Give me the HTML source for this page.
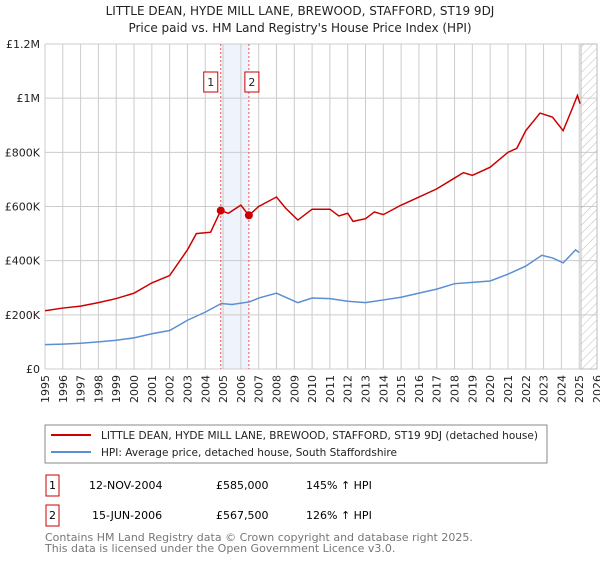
<!DOCTYPE html>
<html><head><meta charset="utf-8"><style>
body{margin:0;background:#fff;font-family:"Liberation Sans","DejaVu Sans",sans-serif;}
svg text{font-family:"DejaVu Sans","Liberation Sans",sans-serif;}
</style></head><body>
<svg width="600" height="560" xmlns="http://www.w3.org/2000/svg">
<defs><pattern id="hatch" width="6" height="6" patternUnits="userSpaceOnUse" patternTransform="rotate(45)"><line x1="0" y1="0" x2="0" y2="6" stroke="#bbb" stroke-width="1"/></pattern></defs>
<text x="300" y="15" text-anchor="middle" font-size="12" fill="#222">LITTLE DEAN, HYDE MILL LANE, BREWOOD, STAFFORD, ST19 9DJ</text>
<text x="300" y="32" text-anchor="middle" font-size="12" fill="#222">Price paid vs. HM Land Registry's House Price Index (HPI)</text>
<g id="plot"></g>
<rect x="45" y="425" width="502" height="38" fill="#fff" stroke="#888"/>
<line x1="51" y1="435" x2="91" y2="435" stroke="#cc0000" stroke-width="2"/>
<text x="101" y="439" font-size="11" fill="#222" textLength="437" lengthAdjust="spacingAndGlyphs">LITTLE DEAN, HYDE MILL LANE, BREWOOD, STAFFORD, ST19 9DJ (detached house)</text>
<line x1="51" y1="452" x2="91" y2="452" stroke="#5b8fd4" stroke-width="2"/>
<text x="101" y="456" font-size="11" fill="#222" textLength="296" lengthAdjust="spacingAndGlyphs">HPI: Average price, detached house, South Staffordshire</text>
<rect x="46" y="475" width="13" height="21" fill="#fff" stroke="#cc0000"/>
<text x="52.5" y="489" text-anchor="middle" font-size="11">1</text>
<text x="89" y="489" font-size="11">12-NOV-2004</text>
<text x="216" y="489" font-size="11">£585,000</text>
<text x="306" y="489" font-size="11">145% ↑ HPI</text>
<rect x="46" y="505" width="13" height="21" fill="#fff" stroke="#cc0000"/>
<text x="52.5" y="519" text-anchor="middle" font-size="11">2</text>
<text x="92" y="519" font-size="11">15-JUN-2006</text>
<text x="216" y="519" font-size="11">£567,500</text>
<text x="306" y="519" font-size="11">126% ↑ HPI</text>
<text x="45" y="541" font-size="11" fill="#777">Contains HM Land Registry data © Crown copyright and database right 2025.</text>
<text x="45" y="552" font-size="11" fill="#777">This data is licensed under the Open Government Licence v3.0.</text>
</svg>
<script>
const yTicks=[0,200,400,600,800,1000,1200];
const yTickLabels=["£0","£200K","£400K","£600K","£800K","£1M","£1.2M"];
const years=[1995,1996,1997,1998,1999,2000,2001,2002,2003,2004,2005,2006,2007,2008,2009,2010,2011,2012,2013,2014,2015,2016,2017,2018,2019,2020,2021,2022,2023,2024,2025,2026];
const hpiT=[1995,1996,1997,1998,1999,2000,2001,2002,2003,2004,2004.9,2005.5,2006.5,2007,2008,2008.5,2009.2,2010,2011,2012,2013,2014,2015,2016,2017,2018,2019,2020,2021,2022,2022.9,2023.5,2024.1,2024.8,2025];
const hpiV=[90,92,95,100,106,115,130,142,180,210,242,238,248,262,280,265,245,262,260,250,245,255,265,280,295,315,320,325,350,380,420,410,392,440,430];
const priceT=[1995,1996,1997,1998,1999,2000,2001,2002,2003,2003.5,2004.3,2004.87,2005.3,2006,2006.45,2007,2008,2008.5,2009.2,2010,2011,2011.5,2012,2012.3,2013,2013.5,2014,2015,2016,2017,2018,2018.5,2019,2019.5,2020,2021,2021.5,2022,2022.8,2023.5,2024.1,2024.6,2024.9,2025.05];
const priceV=[215,225,232,245,260,280,318,345,440,500,505,585,575,605,567,600,635,595,550,590,590,565,575,545,555,580,570,605,635,665,705,725,715,730,745,800,815,880,945,930,880,960,1010,980];
const saleT=[2004.87,2006.45];
const saleV=[585,567.5];
const saleLabels=["1","2"];
const X0=45,X1=597,Y0=369,Y1=44;
const xs=t=>X0+(t-1995)/(2026-1995)*(X1-X0);
const ys=v=>Y0-(v/1200)*(Y0-Y1);
const NS="http://www.w3.org/2000/svg";
const g=document.getElementById('plot');
function mk(tag,attrs){const e=document.createElementNS(NS,tag);for(const k in attrs)e.setAttribute(k,attrs[k]);g.appendChild(e);return e;}
let e=mk('rect',{x:xs(saleT[0]),y:Y1,width:xs(saleT[1])-xs(saleT[0]),height:Y0-Y1,fill:'#eef3fc'});


years.forEach(y=>{const l=mk('line',{x1:xs(y),x2:xs(y),y1:Y1,y2:Y0,stroke:'#ccc','stroke-width':1});


const t=mk('text',{x:0,y:0,'font-size':11,fill:'#222','text-anchor':'end',transform:`translate(${xs(y)+4},${Y0+6}) rotate(-90)`});t.textContent=y;

});
yTicks.forEach((v,i)=>{const l=mk('line',{x1:X0,x2:X1,y1:ys(v),y2:ys(v),stroke:'#ccc','stroke-width':1});


const t=mk('text',{x:X0-5,y:ys(v)+4,'font-size':11,fill:'#222','text-anchor':'end'});t.textContent=yTickLabels[i];

});
e=mk('rect',{x:xs(2025.1),y:Y1,width:X1-xs(2025.1),height:Y0-Y1,fill:'url(#hatch)',stroke:'#bbb'});


e=mk('polyline',{points:hpiT.map((t,i)=>xs(t)+','+ys(hpiV[i])).join(' '),fill:'none',stroke:'#5b8fd4','stroke-width':1.5});


e=mk('polyline',{points:priceT.map((t,i)=>xs(t)+','+ys(priceV[i])).join(' '),fill:'none',stroke:'#cc0000','stroke-width':1.5});


saleT.forEach((t,i)=>{const l=mk('line',{x1:xs(t),x2:xs(t),y1:Y1,y2:Y0,stroke:'#e55','stroke-width':1,'stroke-dasharray':'2,2'});


const c=mk('circle',{cx:xs(t),cy:ys(saleV[i]),r:4,fill:'#cc0000'});


const bx=xs(t)-(i==0?10:-3);
const r=mk('rect',{x:bx-7,y:72,width:14,height:20,fill:'#fff',stroke:'#cc0000'});


const tx=mk('text',{x:bx,y:86,'font-size':11,'text-anchor':'middle',fill:'#222'});tx.textContent=saleLabels[i];

});
</script>
</body></html>
